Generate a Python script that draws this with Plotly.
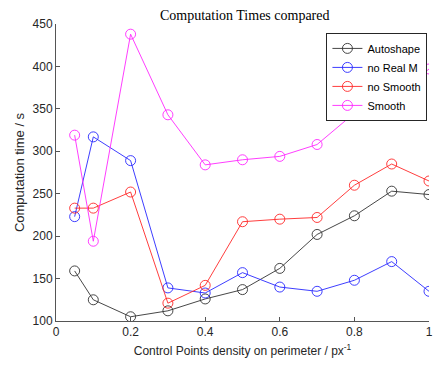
import plotly.graph_objects as go

x = [0.05, 0.1, 0.2, 0.3, 0.4, 0.5, 0.6, 0.7, 0.8, 0.9, 1.0]
autoshape = [159, 125, 105, 112, 126, 137, 162, 202, 224, 253, 249]
no_real_m = [223, 317, 289, 139, 133, 157, 140, 135, 148, 170, 135]
no_smooth = [233, 233, 252, 121, 142, 217, 220, 222, 260, 285, 265]
smooth = [319, 194, 438, 343, 284, 290, 294, 308, 345, 361, 397]

names = ["Autoshape", "no Real M", "no Smooth", "Smooth"]
colors = ["rgb(50,50,50)", "rgb(40,40,255)", "rgb(255,40,40)", "rgb(255,40,255)"]
series = [autoshape, no_real_m, no_smooth, smooth]

fig = go.Figure()
for n, c, s in zip(names, colors, series):
    fig.add_trace(go.Scatter(
        x=x, y=s, name=n, mode="lines+markers",
        line=dict(color=c, width=0.9),
        marker=dict(symbol="circle-open", size=10, color=c, line=dict(width=0.9, color=c)),
    ))

tick_font = dict(family="Liberation Sans, Arial", size=12, color="#262626")
fig.update_layout(
    width=437, height=365,
    margin=dict(l=56, r=4, t=24, b=44),
    plot_bgcolor="white", paper_bgcolor="white",
    title=dict(text="Computation Times compared", x=0.56, xanchor="center", y=0.958, yanchor="middle",
               font=dict(family="Liberation Serif, serif", size=14, color="#000")),
    xaxis=dict(range=[0, 1], tickvals=[0, 0.2, 0.4, 0.6, 0.8, 1], ticktext=["0", "0.2", "0.4", "0.6", "0.8", "1"],
               showgrid=False, zeroline=False, showline=True, linecolor="#555", linewidth=1,
               ticks="inside", ticklen=4, tickcolor="#555", tickfont=tick_font,
               title=dict(text="Control Points density on perimeter / px<sup>-1</sup>",
                          font=dict(family="Liberation Sans, Arial", size=12, color="#262626"), standoff=8)),
    yaxis=dict(range=[100, 450], tickvals=[100, 150, 200, 250, 300, 350, 400, 450],
               showgrid=False, zeroline=False, showline=True, linecolor="#555", linewidth=1,
               ticks="inside", ticklen=4, tickcolor="#555", tickfont=tick_font,
               title=dict(text="Computation time / s",
                          font=dict(family="Liberation Sans, Arial", size=13, color="#262626"), standoff=5)),
    legend=dict(x=0.725, y=0.97, xanchor="left", yanchor="top",
                bordercolor="#262626", borderwidth=1, bgcolor="white",
                font=dict(family="Liberation Sans, Arial", size=11, color="#000"),
                tracegroupgap=0, itemwidth=30),
    showlegend=True,
)
fig.write_html("out.html")
